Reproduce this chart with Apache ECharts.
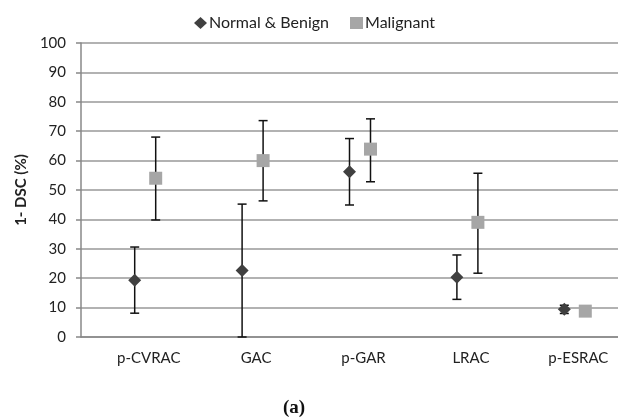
<!DOCTYPE html>
<html>
<head>
<meta charset="utf-8">
<script src="https://cdn.jsdelivr.net/npm/echarts@6/dist/echarts.min.js"></script>
<style>
  html, body { margin: 0; padding: 0; background: #fff; }
  #chart { width: 618px; height: 420px; }
</style>
</head>
<body>
<div id="chart"></div>
<script>
const categories = ['p-CVRAC', 'GAC', 'p-GAR', 'LRAC', 'p-ESRAC']
const yTicks = [0, 10, 20, 30, 40, 50, 60, 70, 80, 90, 100]

// mean values and error bar ends
const benignMean = [19.3, 22.6, 56.2, 20.3, 9.4]
const benignLow = [8.1, 0, 44.9, 12.8, 8.0]
const benignHigh = [30.6, 45.2, 67.5, 27.9, 10.8]

const malignantMean = [54.0, 60.0, 63.9, 39.0, 8.8]
const malignantLow = [39.8, 46.3, 52.8, 21.7, 8.8]
const malignantHigh = [68.0, 73.6, 74.2, 55.7, 8.8]

const font = 'Lato, "Open Sans", sans-serif'
const squareShift = 21

function errorSeries(name, low, high, shift) {
  return {
    name: name,
    type: 'custom',
    z: 1,
    silent: true,
    data: low.map((v, i) => [i, v, high[i]]),
    renderItem: (params, api) => {
      const lo = api.coord([api.value(0), api.value(1)])
      const hi = api.coord([api.value(0), api.value(2)])
      if (Math.abs(lo[1] - hi[1]) < 1) return null
      const x = lo[0] + shift
      const cap = 4.5
      const style = { stroke: '#111', lineWidth: 1.5 }
      return {
        type: 'group',
        children: [
          { type: 'line', shape: { x1: x, y1: lo[1], x2: x, y2: hi[1] }, style },
          { type: 'line', shape: { x1: x - cap, y1: hi[1], x2: x + cap, y2: hi[1] }, style },
          { type: 'line', shape: { x1: x - cap, y1: lo[1], x2: x + cap, y2: lo[1] }, style }
        ]
      }
    }
  }
}

const chart = echarts.init(document.getElementById('chart'))
chart.setOption({
  animation: false,
  textStyle: { fontFamily: font },
  title: {
    text: '(a)',
    left: 278,
    top: 394,
    textStyle: { fontFamily: '"Liberation Serif", serif', fontWeight: 'bold', fontSize: 19, color: '#111' }
  },
  legend: {
    top: 10,
    left: 189,
    itemGap: 21,
    itemWidth: 13,
    itemHeight: 12,
    textStyle: { fontFamily: font, fontSize: 16, color: '#222', padding: [0, 0, 0, -3] },
    data: [
      { name: 'Normal & Benign', icon: 'diamond', itemStyle: { color: '#404040' } },
      { name: 'Malignant', icon: 'rect', itemStyle: { color: '#a6a6a6' } }
    ]
  },
  grid: { left: 81, right: 0, top: 43, bottom: 83 },
  xAxis: {
    type: 'category',
    data: categories,
    axisLine: { lineStyle: { color: '#888', width: 1.5 } },
    axisTick: { show: false },
    axisLabel: { color: '#222', fontSize: 15, margin: 14, padding: [0, 0, 0, 28] }
  },
  yAxis: {
    type: 'value',
    min: yTicks[0],
    max: yTicks[yTicks.length - 1],
    interval: 10,
    name: '1- DSC (%)',
    nameLocation: 'middle',
    nameGap: 52,
    nameTextStyle: { fontWeight: 'bold', fontSize: 15, color: '#222' },
    axisLine: { show: true, lineStyle: { color: '#888', width: 1.5 } },
    axisTick: { show: true, length: 5, lineStyle: { color: '#888', width: 1.5 } },
    axisLabel: { color: '#222', fontSize: 15, margin: 15 },
    splitLine: { lineStyle: { color: '#999', width: 1.5 } }
  },
  series: [
    errorSeries('Normal & Benign', benignLow, benignHigh, 0),
    errorSeries('Malignant', malignantLow, malignantHigh, squareShift),
    {
      name: 'Normal & Benign',
      type: 'scatter',
      z: 3,
      symbol: 'diamond',
      symbolSize: 13,
      itemStyle: { color: '#404040', opacity: 1 },
      data: benignMean
    },
    {
      name: 'Malignant',
      type: 'scatter',
      z: 3,
      symbol: 'rect',
      symbolSize: 13,
      symbolOffset: [squareShift, 0],
      itemStyle: { color: '#a6a6a6', opacity: 1 },
      data: malignantMean
    }
  ]
})
</script>
</body>
</html>
